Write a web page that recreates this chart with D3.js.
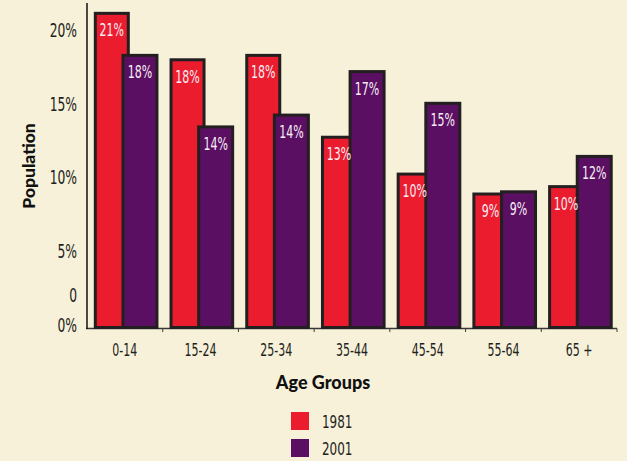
<!DOCTYPE html>
<html>
<head>
<meta charset="utf-8">
<script src="https://cdn.jsdelivr.net/npm/d3@7"></script>
<style>
  html, body { margin: 0; padding: 0; background: #f7f1da; }
  svg { display: block; }
  .num { font-family: "DejaVu Sans Condensed", "Liberation Sans Narrow", "DejaVu Sans", sans-serif; font-stretch: condensed; }
  .title { font-family: Lato, "Open Sans", sans-serif; font-weight: 900; }
</style>
</head>
<body>
<svg id="chart" width="627" height="461"></svg>
<script>
// Share of population by age group, 1981 vs 2001
const ageGroups = ["0-14", "15-24", "25-34", "35-44", "45-54", "55-64", "65+"];
const pop1981 = [21.3, 18.15, 18.45, 12.9, 10.4, 9.05, 9.55];
const pop2001 = [18.45, 13.6, 14.4, 17.35, 15.2, 9.2, 11.6];
const seriesNames = ["1981", "2001"];
const seriesColors = ["#ec1c2f", "#5b0f62"];
const yTickValues = [20, 15, 10, 5, 2, 0];
const yTickLabels = ["20%", "15%", "10%", "5%", "0", "0%"];

const svg = d3.select("#chart");
const W = 627, H = 461;

svg.append("rect").attr("width", W).attr("height", H).attr("fill", "#f7f1da");

const x = d3.scaleBand().domain(ageGroups).range([87, 617]).paddingInner(0).paddingOuter(0);
const y = d3.scaleLinear().domain([0, 20]).range([327.5, 32.5]);
const bw = x.bandwidth();

// bar geometry within each band (the 2001 bar overlaps the 1981 bar)
const barW = [33, 34];
const barOff = [bw * 0.09, bw * 0.455];

const series = [pop1981, pop2001];

// narrow, tall lettering: squeeze text horizontally around its anchor point
function squeeze(sel, sx) {
  sel.each(function () {
    const t = d3.select(this);
    const tx = +t.attr("x") || 0, ty = +t.attr("y") || 0;
    t.attr("x", 0).attr("y", 0)
     .attr("transform", `translate(${tx},${ty}) scale(${sx},1)`);
  });
}

// horizontal baseline with small ticks at band edges
const xAxis = d3.axisBottom(x).tickSize(0).tickPadding(10).tickFormat(d => d === "65+" ? "65 +" : d);
const gx = svg.append("g").attr("transform", "translate(0,328.5)").call(xAxis);
gx.select(".domain").attr("stroke", "#3a3a3a").attr("stroke-width", 1.6).attr("d", "M86,0H617");
gx.selectAll(".tick text").attr("class", "num").attr("font-size", 17.5).attr("fill", "#231f20")
  .attr("y", 21).attr("dy", "0.36em").call(squeeze, 0.7);
const edges = ageGroups.map(g => x(g)).concat([x(ageGroups[ageGroups.length - 1]) + bw]).slice(1);
svg.append("g").selectAll("line").data(edges).join("line")
  .attr("x1", d => d).attr("x2", d => d)
  .attr("y1", 328.5).attr("y2", 332)
  .attr("stroke", "#3a3a3a").attr("stroke-width", 1);

// bars
series.forEach((vals, s) => {
  svg.append("g").selectAll("rect").data(vals).join("rect")
    .attr("x", (d, i) => x(ageGroups[i]) + barOff[s] + 1.5)
    .attr("y", d => y(d))
    .attr("width", barW[s])
    .attr("height", d => y(0) - y(d))
    .attr("fill", seriesColors[s])
    .attr("stroke", "#231f20")
    .attr("stroke-width", 3);
});

// value labels
series.forEach((vals, s) => {
  svg.append("g").selectAll("text").data(vals).join("text")
    .attr("class", "num")
    .attr("x", (d, i) => x(ageGroups[i]) + barOff[s] + 1.5 + barW[s] / 2)
    .attr("y", d => y(d) + 23)
    .attr("text-anchor", "middle")
    .attr("font-size", 18)
    .attr("fill", "#f6eef4")
    .text(d => Math.round(d) + "%")
    .call(squeeze, 0.68);
});

// vertical axis line
svg.append("line").attr("x1", 87).attr("x2", 87).attr("y1", 3).attr("y2", 329)
  .attr("stroke", "#111").attr("stroke-width", 1.5);

// y tick labels
const yAxis = d3.axisLeft(y).tickValues(yTickValues).tickSize(0).tickPadding(10)
  .tickFormat((d, i) => yTickLabels[i]);
const gy = svg.append("g").attr("transform", "translate(87,0)").call(yAxis);
gy.select(".domain").remove();
gy.selectAll(".tick text").attr("class", "num").attr("font-size", 19).attr("fill", "#231f20")
  .attr("y", -3).attr("dy", "0.36em").call(squeeze, 0.72);

// axis titles
svg.append("text").attr("class", "title")
  .attr("transform", "translate(35,166) rotate(-90)")
  .attr("text-anchor", "middle").attr("font-size", 17.5).attr("fill", "#111")
  .text("Population");
svg.append("text").attr("class", "title")
  .attr("x", 323).attr("y", 389)
  .attr("text-anchor", "middle").attr("font-size", 18).attr("fill", "#111")
  .text("Age Groups");

// legend
const legend = svg.append("g").selectAll("g").data(seriesNames).join("g")
  .attr("transform", (d, i) => `translate(291,${412 + i * 27})`);
legend.append("rect").attr("width", 18).attr("height", 18)
  .attr("fill", (d, i) => seriesColors[i]);
legend.append("text").attr("class", "num")
  .attr("x", 31).attr("y", 9).attr("dy", "0.36em")
  .attr("font-size", 18.5).attr("fill", "#231f20")
  .text(d => d)
  .call(squeeze, 0.72);
</script>
</body>
</html>
